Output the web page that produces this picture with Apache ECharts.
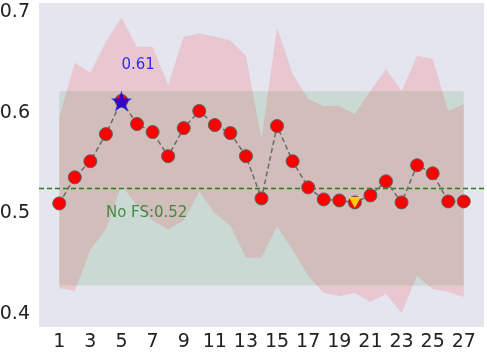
<!DOCTYPE html>
<html>
<head>
<meta charset="utf-8">
<script src="https://cdn.jsdelivr.net/npm/echarts@6/dist/echarts.min.js"></script>
<style>
html,body{margin:0;padding:0;background:#fff;}
#chart{width:487px;height:352px;}
</style>
</head>
<body>
<div id="chart"></div>
<script>
// feature counts 1..27
var xs = [1,2,3,4,5,6,7,8,9,10,11,12,13,14,15,16,17,18,19,20,21,22,23,24,25,26,27];
// mean score per feature count
var scores = [0.510,0.536,0.552,0.579,0.612,0.589,0.581,0.557,0.585,0.602,0.588,0.580,0.557,0.515,
	0.587,0.552,0.526,0.514,0.513,0.511,0.518,0.532,0.511,0.548,0.540,0.512,0.512];
// min / max band
var upper = [0.596,0.650,0.640,0.671,0.695,0.666,0.666,0.628,0.676,0.679,0.676,0.672,0.657,0.574,
	0.685,0.639,0.614,0.607,0.607,0.599,0.622,0.644,0.622,0.657,0.654,0.602,0.609];
var lower = [0.426,0.423,0.464,0.484,0.528,0.508,0.493,0.484,0.493,0.522,0.500,0.488,0.456,0.456,
	0.487,0.464,0.438,0.421,0.418,0.421,0.412,0.420,0.401,0.438,0.425,0.422,0.417];
// baseline without feature selection
var noFs = 0.5249;
var noFsStd = 0.0966;
// selected feature count (yellow marker)
var selectedK = 20;
var xTicks = [1,3,5,7,9,11,13,15,17,19,21,23,25,27];
var yTicks = [0.4,0.5,0.6,0.7];

var X_MIN = -0.3, X_MAX = 28.3;

var bestIdx = 0;
for (var i = 0; i < scores.length; i++) {
	if (scores[i] > scores[bestIdx]) bestIdx = i;
}
var selIdx = xs.indexOf(selectedK);

var pts = [];
for (var i = 0; i < xs.length; i++) pts.push([xs[i], scores[i]]);

var FONT = 'DejaVu Sans';
var STAR = 'path://M50,0 L61.2,34.5 L97.6,34.5 L68.2,55.9 L79.4,90.5 L50,69.1 L20.6,90.5 L31.8,55.9 L2.4,34.5 L38.8,34.5 Z';

var myChart = echarts.init(document.getElementById('chart'));
var option = {
	animation: false,
	grid: {
		left: 39, right: 3, top: 3, bottom: 25,
		containLabel: false,
		outerBoundsMode: 'none',
		show: true, backgroundColor: '#e5e5f0', borderWidth: 0
	},
	xAxis: {
		type: 'value', min: X_MIN, max: X_MAX,
		axisLine: {show: false}, axisTick: {show: false}, splitLine: {show: false},
		axisLabel: {customValues: xTicks, fontFamily: FONT, fontSize: 19, color: '#222', margin: 6}
	},
	yAxis: {
		type: 'value', min: 0.3871, max: 0.7094,
		axisLine: {show: false}, axisTick: {show: false}, splitLine: {show: false},
		axisLabel: {customValues: yTicks, fontFamily: FONT, fontSize: 19, color: '#222', margin: 9,
			formatter: function(v){ return v.toFixed(1); }}
	},
	series: [
		{
			// min-max band
			type: 'custom',
			data: [[xs[0], scores[0]]],
			z: 1,
			silent: true,
			renderItem: function(params, api) {
				var poly = [];
				for (var i = 0; i < xs.length; i++) poly.push(api.coord([xs[i], upper[i]]));
				for (var j = xs.length - 1; j >= 0; j--) poly.push(api.coord([xs[j], lower[j]]));
				return {type: 'polygon', shape: {points: poly}, style: {fill: 'rgba(255,0,0,0.13)'}};
			}
		},
		{
			// no-FS baseline line
			type: 'line',
			z: 2,
			silent: true,
			symbol: 'none',
			data: [[X_MIN, noFs], [X_MAX, noFs]],
			lineStyle: {color: '#2a7d1c', width: 1.5, type: [5, 3]},
			markArea: {
				silent: true,
				itemStyle: {color: 'rgba(0,128,0,0.11)'},
				data: [[{coord: [xs[0], noFs - noFsStd]}, {coord: [xs[xs.length - 1], noFs + noFsStd]}]]
			}
		},
		{
			type: 'line',
			data: pts,
			z: 3,
			symbol: 'circle',
			symbolSize: 13,
			itemStyle: {color: '#ff0000', borderColor: '#606060', borderWidth: 1},
			lineStyle: {color: '#6a6a6a', width: 1.5, type: [5, 3]}
		},
		{
			type: 'scatter',
			z: 4,
			data: [[xs[bestIdx], scores[bestIdx]]],
			symbol: STAR,
			symbolSize: 21,
			itemStyle: {color: '#0000ff'}
		},
		{
			type: 'scatter',
			z: 4,
			data: [[xs[selIdx], scores[selIdx]]],
			symbol: 'triangle',
			symbolRotate: 180,
			symbolSize: [12, 11],
			itemStyle: {color: '#ffff00'}
		},
		{
			// text annotations
			type: 'scatter',
			z: 5,
			symbolSize: 0,
			silent: true,
			data: [
				{value: [xs[bestIdx], 0.648], name: scores[bestIdx].toFixed(2),
					label: {color: '#0000ff'}},
				{value: [4, 0.5], name: 'No FS:' + noFs.toFixed(2),
					label: {color: '#1f7a1f'}}
			],
			label: {
				show: true, position: 'right', distance: 0,
				fontFamily: FONT, fontSize: 15,
				formatter: function(p){ return p.name; }
			}
		}
	]
};
myChart.setOption(option);
</script>
</body>
</html>
